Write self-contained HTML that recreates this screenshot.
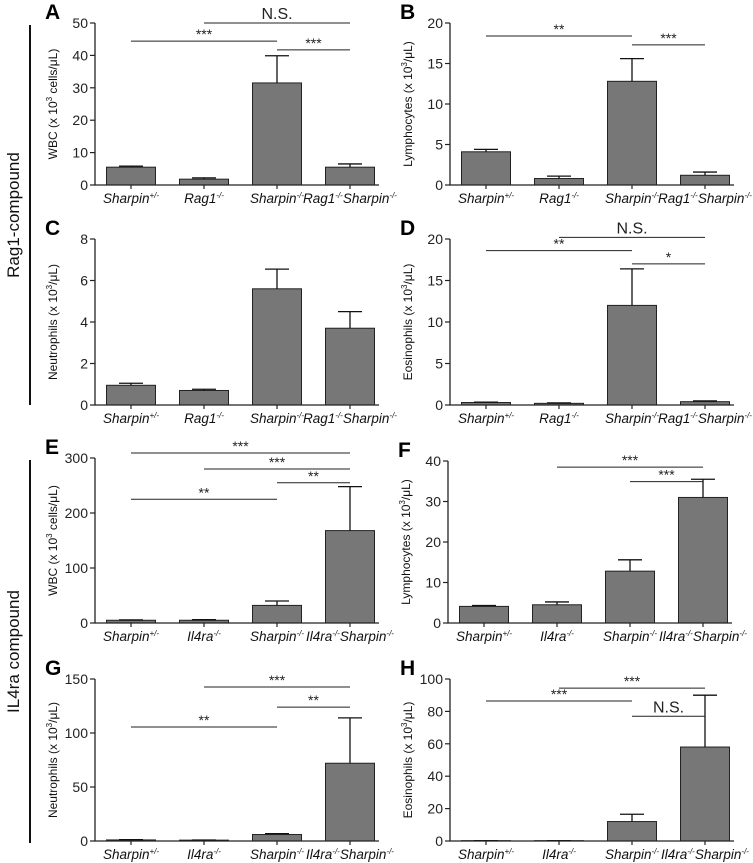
<!DOCTYPE html>
<html><head><meta charset="utf-8"><style>
html,body{margin:0;padding:0;background:#fff;}
svg{display:block;font-family:"Liberation Sans",Arial,sans-serif;}
</style></head><body>
<svg id="fig" width="753" height="863" viewBox="0 0 753 863" xmlns="http://www.w3.org/2000/svg"></svg>
<script>
// ---- data ----
const catsRag = ["Sharpin|+/-","Rag1|-/-","Sharpin|-/-","Rag1|-/-|Sharpin|-/-"];
const catsIl = ["Sharpin|+/-","Il4ra|-/-","Sharpin|-/-","Il4ra|-/-|Sharpin|-/-"];
const valsA = [5.5, 1.8, 31.5, 5.5];   const errA = [0.3, 0.4, 8.4, 1.0];
const valsB = [4.1, 0.8, 12.8, 1.2];   const errB = [0.3, 0.3, 2.8, 0.4];
const valsC = [0.95, 0.7, 5.6, 3.7];   const errC = [0.1, 0.06, 0.95, 0.8];
const valsD = [0.3, 0.2, 12.0, 0.4];   const errD = [0.05, 0.05, 4.4, 0.1];
const valsE = [5, 5, 32, 168];         const errE = [0.6, 1.0, 8, 80];
const valsF = [4.1, 4.5, 12.8, 31];    const errF = [0.2, 0.7, 2.8, 4.5];
const valsG = [1.0, 0.8, 6.0, 72];     const errG = [0.2, 0.1, 0.8, 42];
const valsH = [0.2, 0.2, 12, 58];      const errH = [0.05, 0.05, 4.5, 32];
const ticksA = [0,10,20,30,40,50];
const ticksB = [0,5,10,15,20];
const ticksC = [0,2,4,6,8];
const ticksD = [0,5,10,15,20];
const ticksE = [0,100,200,300];
const ticksF = [0,10,20,30,40];
const ticksG = [0,50,100,150];
const ticksH = [0,20,40,60,80,100];
const sigA = [[1,3,50,"N.S."],[0,2,44.4,"***"],[2,3,41.7,"***"]];
const sigB = [[0,2,18.4,"**"],[2,3,17.3,"***"]];
const sigC = [];
const sigD = [[1,3,20.2,"N.S."],[0,2,18.6,"**"],[2,3,17.0,"*"]];
const sigE = [[0,3,309,"***"],[1,3,280,"***"],[2,3,255,"**"],[0,2,225,"**"]];
const sigF = [[1,3,38.5,"***"],[2,3,34.9,"***"]];
const sigG = [[1,3,142.6,"***"],[2,3,124,"**"],[0,2,105.6,"**"]];
const sigH = [[1,3,94.4,"***"],[0,2,86.4,"***"],[2,3,77,"N.S."]];

const NS="http://www.w3.org/2000/svg";
const svg=document.getElementById('fig');
function mk(tag,attrs,parent){const e=document.createElementNS(NS,tag);for(const k in attrs)e.setAttribute(k,attrs[k]);(parent||svg).appendChild(e);return e;}

function panel(key,letter,ax,top,bot,ticks,vals,errs,cats,sig,ytitle){
  const g=mk('g',{});
  
  
  const max=ticks[ticks.length-1];
  const y=v=>bot-(v/max)*(bot-top);
  const x=i=>ax+36+i*73;
  const bw=49;
  const lt=mk('text',{x:ax-50,y:top-4,'font-size':21,'font-weight':'bold'},g);lt.textContent=letter;
  
  
  vals.forEach((v,i)=>{
    const r=mk('rect',{x:x(i)-bw/2,y:y(v),width:bw,height:bot-y(v),fill:'#777',stroke:'#222','stroke-width':1},g);
    
    
    const e=mk('path',{d:`M${x(i)},${y(v)}V${y(v+errs[i])}M${x(i)-12},${y(v+errs[i])}H${x(i)+12}`,stroke:'#111','stroke-width':1.3,fill:'none'},g);
    
    
  });
  const a=mk('path',{d:`M${ax},${top}V${bot}H${ax+284}`,stroke:'#222','stroke-width':1.3,fill:'none'},g);
  
  
  ticks.forEach(t=>{
    mk('path',{d:`M${ax-5},${y(t)}H${ax}`,stroke:'#222','stroke-width':1.2},g);
    const tx=mk('text',{x:ax-7,y:y(t)+5,'font-size':14,'text-anchor':'end',fill:'#222'},g);tx.textContent=t;
    
    
  });
  cats.forEach((c,i)=>{
    mk('path',{d:`M${x(i)},${bot}V${bot+4}`,stroke:'#222','stroke-width':1.2},g);
    const p=c.split('|');
    const tx=mk('text',{x:x(i),y:bot+18,'font-size':13.5,'text-anchor':'middle','font-style':'italic',fill:'#111'},g);
    
    
    for(let k=0;k<p.length;k++){
      const s=mk('tspan',k%2?{'font-size':8,dy:-5}:(k>0?{dy:5}:{}),tx);s.textContent=p[k];
    }
  });
  const yt=mk('text',{transform:`translate(${ax-38},${(top+bot)/2}) rotate(-90)`,'font-size':12,'text-anchor':'middle',fill:'#111'},g);
  
  
  const yp=ytitle.split('|');
  mk('tspan',{},yt).textContent=yp[0];
  mk('tspan',{'font-size':8,dy:-5},yt).textContent=yp[1];
  mk('tspan',{dy:5},yt).textContent=yp[2];
  sig.forEach(s=>{
    const yy=y(s[2]);
    const l=mk('path',{d:`M${x(s[0])},${yy}H${x(s[1])}`,stroke:'#222','stroke-width':1},g);
    
    
    const ns=s[3]==='N.S.';
    const t=mk('text',{x:(x(s[0])+x(s[1]))/2,y:yy-(ns?4:2),'font-size':ns?16:14,'text-anchor':'middle',fill:'#222'},g);t.textContent=s[3];
    
    
  });
}
panel('a','A',95,23,185,ticksA,valsA,errA,catsRag,sigA,'WBC (x 10|3| cells/μL)');
panel('b','B',450,23,185,ticksB,valsB,errB,catsRag,sigB,'Lymphocytes (x 10|3|/μL)');
panel('c','C',95,239,405,ticksC,valsC,errC,catsRag,sigC,'Neutrophils (x 10|3|/μL)');
panel('d','D',450,239,405,ticksD,valsD,errD,catsRag,sigD,'Eosinophils (x 10|3|/μL)');
panel('e','E',95,458,623,ticksE,valsE,errE,catsIl,sigE,'WBC (x 10|3| cells/μL)');
panel('f','F',448,461,623,ticksF,valsF,errF,catsIl,sigF,'Lymphocytes (x 10|3|/μL)');
panel('g','G',95,679,841,ticksG,valsG,errG,catsIl,sigG,'Neutrophils (x 10|3|/μL)');
panel('h','H',450,679,841,ticksH,valsH,errH,catsIl,sigH,'Eosinophils (x 10|3|/μL)');
[['Rag1-compound',25,405,'group-label-rag1'],['IL4ra compound',460,843,'group-label-il4ra']].forEach(d=>{
  const l=mk('path',{d:`M30,${d[1]}V${d[2]}`,stroke:'#111','stroke-width':2});
  
  
  const t=mk('text',{transform:`translate(19,${(d[1]+d[2])/2}) rotate(-90)`,'font-size':17,'text-anchor':'middle',fill:'#111'});t.textContent=d[0];
  
  
});
</script>
</body></html>
